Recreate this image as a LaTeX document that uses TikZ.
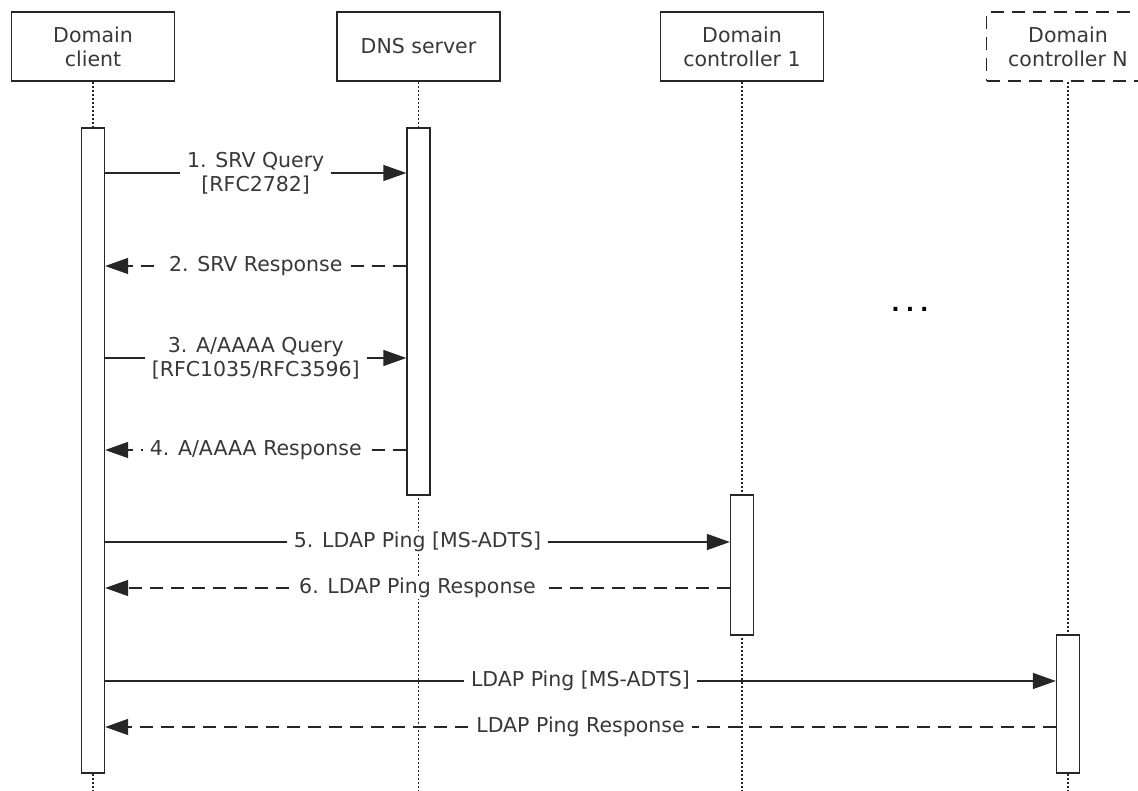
\documentclass[tikz,border=0pt]{standalone}
\usepackage{fontspec}
\setmainfont{DejaVu Sans}
\usetikzlibrary{arrows.meta}
\begin{document}
\begin{tikzpicture}[x=1pt,y=-1pt,
 txt/.style={font=\fontsize{20.5}{24}\selectfont, text=black!78},
 hdr/.style={draw=black!85, line width=1.3pt, minimum width=163pt, minimum height=69pt, inner sep=0pt, align=center, txt},
 life/.style={draw=black!85, line width=1.3pt, dash pattern=on 2pt off 2pt},
 bar/.style={draw=black!85, fill=white, line width=1.3pt, minimum width=23pt, inner sep=0pt},
 msg/.style={draw=black!85, line width=1.3pt, -{Triangle[length=23pt,width=16pt]}},
 rsp/.style={msg, dash pattern=on 13pt off 8pt},
 lbl/.style={txt, fill=white, inner xsep=7pt, inner ysep=1pt, align=center}]
\clip (0,0) rectangle (1138,791);
\fill[white] (0,0) rectangle (1138,791);
% headers
\node[hdr] (hc) at (93,46.5) {Domain\\client};
\node[hdr] (hd) at (418.5,46.5) {DNS server};
\node[hdr] (h1) at (742,46.5) {Domain\\controller 1};
\node[hdr, dash pattern=on 13pt off 8pt] (hn) at (1068,46.5) {Domain\\controller N};
% lifeline ends
\coordinate (ec) at (93,791);
\coordinate (ed) at (418.5,791);
\coordinate (e1) at (742,791);
\coordinate (en) at (1068,791);
\draw[life] (hc.south) -- (ec);
\draw[life] (hd.south) -- (ed);
\draw[life] (h1.south) -- (e1);
\draw[life] (hn.south) -- (en);
% activation bars
\node[bar, minimum height=645pt] (bc) at (93,450.5) {};
\node[bar, minimum height=367pt] (bd) at (418.5,311.5) {};
\node[bar, minimum height=140pt] (b1) at (742,565) {};
\node[bar, minimum height=138pt] (bn) at (1068,704) {};
% messages
\draw[msg] (bc.east |- 0,173) -- node[lbl] {1. SRV Query\\{}[RFC2782]} (bd.west |- 0,173);
\draw[rsp] (bd.west |- 0,266) -- node[lbl] {2. SRV Response} (bc.east |- 0,266);
\draw[msg] (bc.east |- 0,358) -- node[lbl] {3. A/AAAA Query\\{}[RFC1035/RFC3596]} (bd.west |- 0,358);
\draw[rsp] (bd.west |- 0,450) -- node[lbl] {4. A/AAAA Response} (bc.east |- 0,450);
\draw[msg] (bc.east |- 0,542) -- node[lbl] {5. LDAP Ping [MS-ADTS]} (b1.west |- 0,542);
\draw[rsp] (b1.west |- 0,588) -- node[lbl] {6. LDAP Ping Response} (bc.east |- 0,588);
\draw[msg] (bc.east |- 0,681) -- node[lbl] {LDAP Ping [MS-ADTS]} (bn.west |- 0,681);
\draw[rsp] (bn.west |- 0,727) -- node[lbl] {LDAP Ping Response} (bc.east |- 0,727);
% ellipsis
\node[font=\fontsize{22}{24}\selectfont\bfseries, text=black] (dots) at (910,309) {.\hspace{6pt}.\hspace{6pt}.};
\end{tikzpicture}
\end{document}
